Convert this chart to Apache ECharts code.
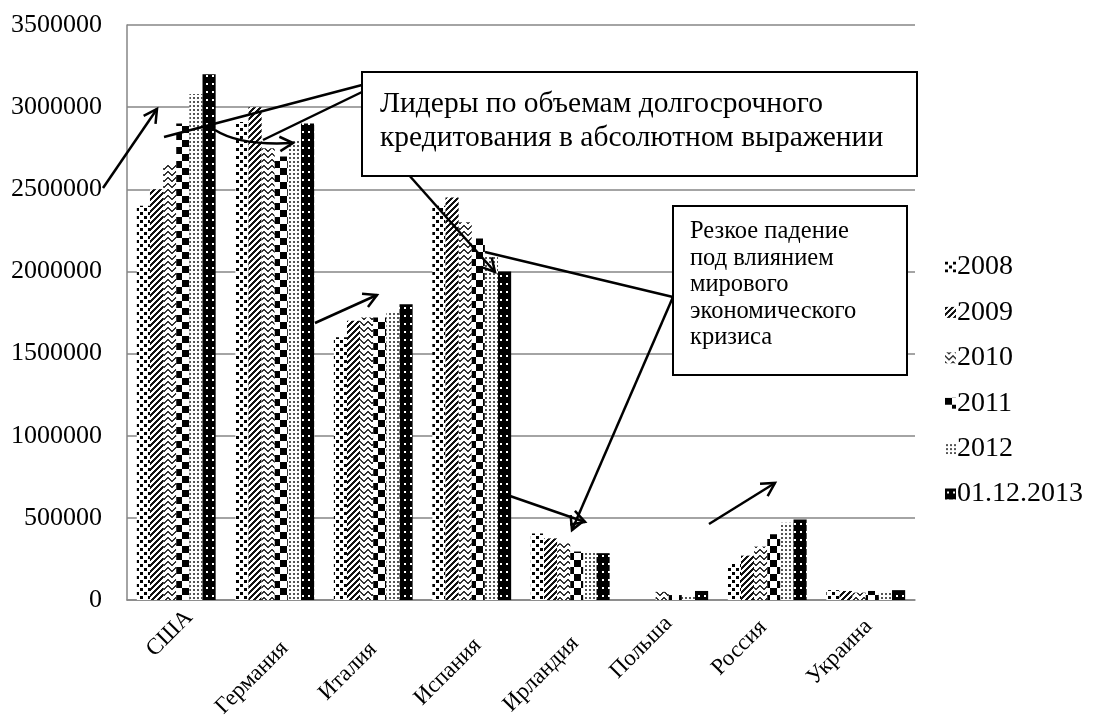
<!DOCTYPE html>
<html><head><meta charset="utf-8">
<script src="https://cdn.jsdelivr.net/npm/echarts@6/dist/echarts.min.js"></script>
<style>html,body{margin:0;padding:0;background:#fff}#c{width:1099px;height:716px}</style>
</head><body><div id="c"></div><script>
const categories = ['США','Германия','Италия','Испания','Ирландия','Польша','Россия','Украина'];
const seriesNames = ['2008','2009','2010','2011','2012','01.12.2013'];
const v2008 = [2400000, 2910000, 1600000, 2400000, 405000, 0, 220000, 60000];
const v2009 = [2500000, 3000000, 1700000, 2450000, 375000, 0, 270000, 55000];
const v2010 = [2650000, 2750000, 1720000, 2300000, 345000, 50000, 325000, 45000];
const v2011 = [2900000, 2700000, 1720000, 2200000, 295000, 30000, 400000, 55000];
const v2012 = [3080000, 2800000, 1750000, 2100000, 290000, 30000, 470000, 50000];
const v2013 = [3200000, 2900000, 1800000, 2000000, 285000, 55000, 490000, 60000];
const yMin = 0, yMax = 3500000, yStep = 500000;
const boxText1 = ['Лидеры по объемам долгосрочного', 'кредитования в абсолютном выражении'];
const boxText2 = ['Резкое падение', 'под влиянием', 'мирового', 'экономического', 'кризиса'];

// layout-only: screen shift of each category label (dx, dy) in px
const labelShift = [[13, -4], [10, 27], [0, 28], [6, 24], [5, 22], [0, 2], [-4, 6], [3, 5]];

const FONT = '"Liberation Serif","Times New Roman",serif';

function pix(w, h, fn, bg) {
  const c = document.createElement('canvas'); c.width = w; c.height = h;
  const g = c.getContext('2d');
  g.fillStyle = bg || '#fff'; g.fillRect(0, 0, w, h);
  for (let y = 0; y < h; y++) for (let x = 0; x < w; x++) {
    const col = fn(x, y); if (col) { g.fillStyle = col; g.fillRect(x, y, 1, 1); }
  }
  return { image: c, repeat: 'repeat' };
}
const patterns = [
  pix(8, 8, (x, y) => ((x < 3 && y < 3) || (x >= 4 && x < 7 && y >= 4 && y < 7)) ? '#000' : null),
  pix(6, 6, (x, y) => ((x + y) % 6) < 3 ? '#111' : null),
  pix(8, 6, (x, y) => { const d = Math.abs(x - 3.5) - 0.5; return ((y + d) % 6 + 6) % 6 < 2 ? '#333' : null; }),
  pix(14, 14, (x, y) => ((x < 7) === (y < 7)) ? '#000' : null),
  pix(4, 4, (x, y) => ((x === 1 || x === 2) && (y === 1 || y === 2)) ? '#555' : null),
  pix(6, 8, (x, y) => null, '#000')
];
(function(){ const g = patterns[5].image.getContext('2d'); g.fillStyle = '#fff'; g.fillRect(2, 3, 2, 2); })();

const values = [v2008, v2009, v2010, v2011, v2012, v2013];
const series = seriesNames.map((n, i) => ({
  name: n, type: 'bar', data: values[i], barGap: '0%', barCategoryGap: '20%',
  itemStyle: { color: patterns[i] }
}));

const rich = { t: { fontSize: 23, lineHeight: 23, fontFamily: FONT, color: '#000' } };
const catData = categories.map((c, i) => {
  const dx = labelShift[i][0], dy = labelShift[i][1];
  const t = (dx + dy) / Math.SQRT2, r = (dy - dx) / Math.SQRT2;
  rich['s' + i] = { fontSize: 1, lineHeight: 2 * t, height: 2 * t };
  return { value: c, textStyle: { padding: [0, r, 0, 0] } };
});

const els = [];
function seg(x1, y1, x2, y2) {
  els.push({ type: 'line', z: 100, shape: { x1, y1, x2, y2 }, style: { stroke: '#000', lineWidth: 2.5 } });
}
function head(fx, fy, tx, ty) {
  const a = Math.atan2(ty - fy, tx - fx), L = 15, s = 0.5;
  els.push({ type: 'polyline', z: 100, shape: { points: [
    [tx - L * Math.cos(a - s), ty - L * Math.sin(a - s)], [tx, ty],
    [tx - L * Math.cos(a + s), ty - L * Math.sin(a + s)]] },
    style: { stroke: '#000', lineWidth: 2.5, fill: null } });
}
function arrow(x1, y1, x2, y2) { seg(x1, y1, x2, y2); head(x1, y1, x2, y2); }

arrow(103, 188, 157, 109);
seg(362, 85, 164, 137);
seg(362, 92, 263, 140);
els.push({ type: 'bezierCurve', z: 100, shape: { x1: 215, y1: 130, x2: 293, y2: 143, cpx1: 240, cpy1: 146 },
  style: { stroke: '#000', lineWidth: 2.5, fill: null } });
head(250, 146, 293, 143);
arrow(315, 323, 377, 295);
arrow(400, 165, 495, 272);
seg(673, 297, 485, 252);
arrow(673, 297, 572, 530);
arrow(510, 496, 585, 522);
arrow(709, 524, 775, 483);

els.push({ type: 'rect', z: 101, shape: { x: 362, y: 72, width: 555, height: 104 },
  style: { fill: '#fff', stroke: '#000', lineWidth: 2 } });
boxText1.forEach((t, i) => els.push({ type: 'text', z: 102, style: { text: t, x: 380, y: 104 + i * 34,
  font: '29.5px ' + FONT, fill: '#000', verticalAlign: 'middle' } }));
els.push({ type: 'rect', z: 101, shape: { x: 673, y: 206, width: 234, height: 169 },
  style: { fill: '#fff', stroke: '#000', lineWidth: 2 } });
boxText2.forEach((t, i) => els.push({ type: 'text', z: 102, style: { text: t, x: 690, y: 232 + i * 26.5,
  font: '24.5px ' + FONT, fill: '#000', verticalAlign: 'middle' } }));

const chart = echarts.init(document.getElementById('c'), null, { renderer: 'canvas' });
chart.setOption({
  animation: false,
  backgroundColor: '#fff',
  textStyle: { fontFamily: FONT },
  grid: { left: 127, right: 184, top: 25, bottom: 116, containLabel: false, outerBoundsMode: 'none' },
  legend: {
    orient: 'vertical', left: 940, top: 248, itemWidth: 11, itemHeight: 11, itemGap: 17.4,
    icon: 'rect', data: seriesNames,
    textStyle: { fontFamily: FONT, fontSize: 28, lineHeight: 27, color: '#000', padding: [0, 0, 0, -4] }
  },
  xAxis: {
    type: 'category', data: catData,
    axisLine: { lineStyle: { color: '#868686', width: 1.5 } },
    axisTick: { show: false },
    axisLabel: { rotate: 45, fontSize: 23, color: '#000', fontFamily: FONT, margin: 18, interval: 0,
      formatter: (v, i) => '{s' + i + '| }\n{t|' + v + '}', rich: rich }
  },
  yAxis: {
    type: 'value', min: yMin, max: yMax, interval: yStep,
    axisLine: { show: true, lineStyle: { color: '#868686', width: 1.5 } },
    axisTick: { show: false },
    splitLine: { lineStyle: { color: '#868686', width: 1.5 } },
    axisLabel: { fontSize: 26, color: '#000', fontFamily: FONT, margin: 25, formatter: v => String(v) }
  },
  series: series,
  graphic: { elements: els }
});
</script></body></html>
